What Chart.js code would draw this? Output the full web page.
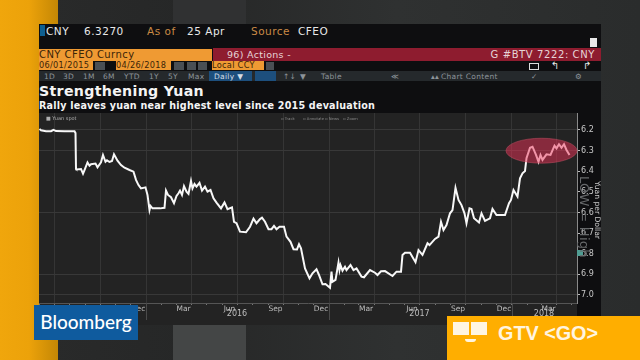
<!DOCTYPE html>
<html>
<head>
<meta charset="utf-8">
<style>
  html, body { margin: 0; padding: 0; background: #262828; }
  #stage { position: relative; width: 640px; height: 360px; overflow: hidden; font-family: "DejaVu Sans", sans-serif;
    background: linear-gradient(90deg, #2a2b2b 0%, #262727 30%, #2f3131 62%, #2a2c2c 100%); }
  #stage div, #stage span { position: absolute; white-space: nowrap; }
  .strip { left: 0; top: 0; width: 58px; height: 360px; background: linear-gradient(90deg, #f0a60c 0%, #eca20a 50%, #c48705 100%); }
  .patch { left: 173px; width: 73px; }
  .panel { left: 39px; top: 24px; width: 562px; height: 301px; background: #0e0e10; }
  .quote { top: 25px; font-size: 10.5px; line-height: 13px; letter-spacing: .5px; color: #e8e8e8; }
  .or { color: #c98a45; }
  .bar-o { background: #ef9a33; color: #3a2408; }
  .small { font-size: 8.2px; line-height: 9px; top: 61px; height: 9px; letter-spacing: .3px; }
  .btn { top: 62px; height: 8px; background: #4a4f54; }
  .tab { top: 72px; font-size: 7.5px; line-height: 9px; color: #8d949a; letter-spacing: .3px; }
  .mini { top: 116px; font-size: 3.8px; line-height: 5px; color: #8b8b8b; }
  #chart { position: absolute; left: 39px; top: 113px; }
  #logo { left: 34px; top: 305px; width: 104px; height: 35px; background: #0f5b9e; color: #fff;
    font-family: Lato, sans-serif; font-weight: 500; font-size: 19px; line-height: 33px; text-align: center; }
  #gtv { left: 447px; top: 316px; width: 193px; height: 44px; background: #ffae00; }
  #gtv span { left: 51px; top: 5px; font-family: "Liberation Sans", sans-serif; font-weight: bold; font-size: 19.8px; line-height: 24px; color: #fff5e0; }
  .screen { top: 6px; height: 13px; background: #fff5e0; }
  .side { transform-origin: left top; transform: rotate(90deg); }
</style>
</head>
<body>
<div id="stage">
  <div class="strip"></div>
  <div class="patch" style="top:0;height:24px;background:#303132"></div>
  <div class="patch" style="top:325px;height:35px;background:#444646"></div>

  <div class="panel"></div>
  <div style="left:40px;top:25px;width:5px;height:11px;background:#0f5f8f"></div>
  <span class="quote" style="left:46px">CNY</span>
  <span class="quote" style="left:84px">6.3270</span>
  <span class="quote or" style="left:147px">As of</span>
  <span class="quote" style="left:187px">25 Apr</span>
  <span class="quote or" style="left:251px">Source</span>
  <span class="quote" style="left:298px">CFEO</span>

  <div style="left:590px;top:38px;width:7px;height:9px;background:#e8e8e8"></div>

  <div class="bar-o" style="left:39px;top:49px;width:173px;height:12px;font-size:10px;line-height:12px;letter-spacing:.45px">CNY CFEO Curncy</div>
  <div style="left:213px;top:48px;width:388px;height:13px;background:#8e1c2f"></div>
  <span style="left:227px;top:48px;font-size:9.5px;line-height:13px;color:#e6d4d6;letter-spacing:.3px">96) Actions  -</span>
  <span style="right:45px;top:48px;font-size:10px;line-height:13px;color:#e6d4d6;letter-spacing:.6px">G #BTV 7222: CNY</span>

  <div class="bar-o small" style="left:39px;width:54px">06/01/2015</div>
  <div class="btn" style="left:95px;width:10px"></div>
  <div class="bar-o small" style="left:116px;width:55px">04/26/2018</div>
  <div class="btn" style="left:174px;width:10px"></div>
  <div class="btn" style="left:187px;width:9px"></div>
  <div class="btn" style="left:198px;width:9px"></div>
  <div class="bar-o small" style="left:212px;width:52px">Local CCY</div>
  <div class="btn" style="left:266px;width:8px"></div>
  <div style="left:529px;top:63px;width:8px;height:5px;border:1px solid #ddd"></div>
  <span style="left:551px;top:60px;font-size:10px;line-height:11px;color:#e8e8e8">↰</span>
  <span style="left:583px;top:60px;font-size:10px;line-height:11px;color:#e8e8e8">↱</span>

  <div style="left:39px;top:71px;width:562px;height:10px;background:#25292c"></div>
  <span class="tab" style="left:44px">1D</span>
  <span class="tab" style="left:63px">3D</span>
  <span class="tab" style="left:83px">1M</span>
  <span class="tab" style="left:103px">6M</span>
  <span class="tab" style="left:124px">YTD</span>
  <span class="tab" style="left:149px">1Y</span>
  <span class="tab" style="left:168px">5Y</span>
  <span class="tab" style="left:188px">Max</span>
  <div style="left:209px;top:71px;width:43px;height:10px;background:#1d4f7d"></div>
  <span class="tab" style="left:214px;color:#d5dde5">Daily ▼</span>
  <div style="left:255px;top:71px;width:21px;height:10px;background:#1d4f7d"></div>
  <span class="tab" style="left:283px">↑↓</span>
  <span class="tab" style="left:300px">▼</span>
  <span class="tab" style="left:321px">Table</span>
  <span class="tab" style="left:391px">≪</span>
  <span class="tab" style="left:431px">▴▴</span>
  <span class="tab" style="left:441px">Chart Content</span>
  <span class="tab" style="left:531px">✓</span>
  <span class="tab" style="left:575px">⚙</span>

  <span style="left:39px;top:83px;font-size:14.2px;line-height:17px;font-weight:bold;color:#f4f4f4;letter-spacing:.3px">Strengthening Yuan</span>
  <span style="left:39px;top:99px;font-size:9.6px;line-height:13px;font-weight:bold;color:#f4f4f4;letter-spacing:.2px">Rally leaves yuan near highest level since 2015 devaluation</span>

  <canvas id="chart" width="562" height="212"></canvas>

  <span class="mini" style="left:46px;font-size:5px;color:#b0b0b0">■ Yuan spot</span>
  <span class="mini" style="left:281px">▫ Track</span>
  <span class="mini" style="left:303px">▫ Annotate</span>
  <span class="mini" style="left:325px">▫ News</span>
  <span class="mini" style="left:343px">▫ Zoom</span>

  <div style="left:577px;top:250px;width:6px;height:6px;background:#4f9c92"></div>
  <span class="side" style="left:592px;top:176px;font-size:13px;line-height:16px;color:#66686a;letter-spacing:.3px">LOW = High</span>
  <span class="side" style="left:602px;top:181px;font-size:7.6px;line-height:10px;color:#c9c9c9">Yuan per Dollar</span>

  <div id="logo">Bloomberg</div>
  <div id="gtv">
    <div class="screen" style="left:6px;width:16px"></div>
    <div class="screen" style="left:24px;width:16px"></div>
    <div style="left:18px;top:23px;width:11px;height:3px;border-radius:0 0 5px 5px;background:#fff5e0"></div>
    <span>GTV &lt;GO&gt;</span>
  </div>
</div>

<script src="https://cdn.jsdelivr.net/npm/chart.js@4/dist/chart.umd.min.js"></script>
<script>
// Days since 06/01/2015 and yuan per dollar
const days = [1, 4, 14, 24, 29, 34, 51, 71, 73, 74, 75, 84, 88, 91, 97, 101, 104, 113, 117, 124, 128, 133, 136, 141, 146, 150, 157, 164, 171, 181, 189, 194, 199, 204, 213, 217, 221, 223, 227, 242, 251, 254, 258, 264, 270, 275, 279, 282, 286, 290, 295, 299, 304, 307, 311, 315, 321, 326, 332, 337, 343, 349, 355, 364, 371, 377, 386, 390, 395, 402, 414, 422, 429, 435, 442, 446, 452, 459, 465, 470, 475, 481, 490, 495, 503, 509, 516, 520, 524, 532, 541, 547, 555, 560, 567, 573, 582, 585, 587, 593, 599, 601, 603, 607, 612, 615, 623, 629, 635, 645, 650, 662, 672, 677, 684, 692, 707, 715, 724, 727, 732, 742, 753, 759, 767, 777, 781, 792, 799, 804, 809, 815, 822, 827, 833, 839, 845, 851, 855, 861, 865, 870, 880, 885, 892, 902, 907, 915, 932, 940, 944, 949, 957, 962, 967, 972, 975, 982, 987, 994, 999, 1003, 1007, 1015, 1023, 1031, 1035, 1040, 1045, 1050, 1055, 1061];
const yuanSpot = [6.195, 6.201, 6.206, 6.206, 6.199, 6.205, 6.206, 6.206, 6.215, 6.389, 6.391, 6.389, 6.412, 6.394, 6.357, 6.373, 6.366, 6.363, 6.381, 6.357, 6.321, 6.354, 6.347, 6.355, 6.350, 6.318, 6.349, 6.370, 6.383, 6.394, 6.402, 6.442, 6.467, 6.483, 6.478, 6.515, 6.588, 6.568, 6.580, 6.580, 6.577, 6.494, 6.515, 6.526, 6.555, 6.520, 6.507, 6.494, 6.515, 6.472, 6.499, 6.510, 6.447, 6.483, 6.462, 6.475, 6.456, 6.494, 6.475, 6.499, 6.491, 6.531, 6.552, 6.580, 6.551, 6.584, 6.575, 6.645, 6.652, 6.693, 6.696, 6.669, 6.630, 6.652, 6.632, 6.625, 6.645, 6.681, 6.681, 6.665, 6.681, 6.669, 6.669, 6.717, 6.742, 6.778, 6.779, 6.754, 6.774, 6.871, 6.919, 6.895, 6.875, 6.903, 6.948, 6.947, 6.965, 6.887, 6.936, 6.927, 6.843, 6.879, 6.855, 6.882, 6.863, 6.879, 6.855, 6.879, 6.871, 6.911, 6.914, 6.879, 6.892, 6.903, 6.885, 6.884, 6.908, 6.887, 6.887, 6.806, 6.795, 6.795, 6.841, 6.782, 6.805, 6.749, 6.758, 6.728, 6.717, 6.645, 6.685, 6.661, 6.604, 6.588, 6.480, 6.539, 6.564, 6.604, 6.652, 6.580, 6.583, 6.628, 6.648, 6.604, 6.641, 6.628, 6.583, 6.612, 6.612, 6.555, 6.539, 6.491, 6.523, 6.434, 6.410, 6.399, 6.337, 6.286, 6.281, 6.321, 6.354, 6.321, 6.345, 6.318, 6.321, 6.276, 6.289, 6.269, 6.286, 6.269, 6.297, 6.321];

const yTicks = [6.2, 6.3, 6.4, 6.5, 6.6, 6.7, 6.8, 6.9, 7.0];
const yGridTicks = [6.2, 6.3, 6.6, 6.9, 7.0];

// Month starts (days since 06/01/2015), labels sit mid-month
const monthStarts = [0, 30, 61, 92, 122, 153, 183, 214, 245, 274, 305, 335, 366, 396, 427, 458, 488, 519, 549, 580, 611, 639, 670, 700, 731, 761, 792, 823, 853, 884, 914, 945, 976, 1004, 1035, 1065];
const gridDays = [30, 122, 214, 305, 396, 488, 580, 670, 761, 853, 945, 1035];
const labelDays = [15, 107, 198, 289, 381, 473, 564, 654, 746, 838, 930, 1019];
const labelNames = ['Jun', 'Sep', 'Dec', 'Mar', 'Jun', 'Sep', 'Dec', 'Mar', 'Jun', 'Sep', 'Dec', 'Mar'];

const yearNames = ['2016', '2017', '2018'];
const yearCentres = [396, 761, 1010];
const yearStarts = [214, 580, 945];

// Highlight ellipse, in axis units
const ellipseDays = [934, 1076];
const ellipseYuan = [6.24, 6.361];

const decorPlugin = {
    id: 'decor',
    afterDatasetsDraw(chart) {
        const { ctx, scales: { x, y } } = chart;
        const x0 = x.getPixelForValue(ellipseDays[0]);
        const x1 = x.getPixelForValue(ellipseDays[1]);
        const y0 = y.getPixelForValue(ellipseYuan[0]);
        const y1 = y.getPixelForValue(ellipseYuan[1]);
        ctx.save();
        ctx.beginPath();
        ctx.ellipse((x0 + x1) / 2, (y0 + y1) / 2, (x1 - x0) / 2, (y1 - y0) / 2, 0, 0, Math.PI * 2);
        ctx.fillStyle = 'rgba(235, 50, 88, 0.5)';
        ctx.fill();
        ctx.lineWidth = 1;
        ctx.strokeStyle = 'rgba(200, 80, 100, 0.5)';
        ctx.stroke();
        ctx.restore();
    },
    afterDraw(chart) {
        const { ctx, chartArea, scales: { x } } = chart;
        ctx.save();
        ctx.strokeStyle = '#4a4a4a';
        ctx.beginPath();
        yearStarts.forEach(d => {
            const px = Math.round(x.getPixelForValue(d)) + 0.5;
            ctx.moveTo(px, chartArea.bottom);
            ctx.lineTo(px, chartArea.bottom + 17);
        });
        ctx.stroke();
        ctx.fillStyle = '#bdbdbd';
        ctx.font = '8px "DejaVu Sans"';
        ctx.textAlign = 'center';
        ctx.textBaseline = 'middle';
        yearNames.forEach((name, i) => ctx.fillText(name, x.getPixelForValue(yearCentres[i]), chartArea.bottom + 11));
        ctx.restore();
    }
};

const bgPlugin = {
    id: 'plotBackground',
    beforeDraw(chart) {
        const { ctx, width, height, chartArea: a } = chart;
        ctx.save();
        ctx.fillStyle = '#232323';
        ctx.fillRect(0, 0, a.right, height);
        ctx.fillStyle = '#0e0e10';
        ctx.fillRect(a.right, 0, width - a.right, height);
        ctx.restore();
    }
};

new Chart(document.getElementById('chart').getContext('2d'), {
    type: 'line',
    data: {
        datasets: [{
            label: 'Yuan spot',
            data: days.map((d, i) => ({ x: d, y: yuanSpot[i] })),
            borderColor: '#f8f8f8',
            borderWidth: 2,
            pointRadius: 0,
            tension: 0
        }]
    },
    options: {
        responsive: false,
        animation: false,
        layout: { padding: 0 },
        plugins: { legend: { display: false }, tooltip: { enabled: false } },
        scales: {
            x: {
                type: 'linear',
                min: 0,
                max: 1076,
                afterBuildTicks: s => {
                    s.ticks = [...monthStarts, ...labelDays].sort((a, b) => a - b).map(v => ({ value: v }));
                },
                afterFit: s => { s.height = 22; s.paddingLeft = 0; s.paddingRight = 0; },
                grid: {
                    color: c => gridDays.includes(c.tick?.value) ? '#353535' : 'transparent',
                    tickColor: c => monthStarts.includes(c.tick?.value) ? '#777' : 'transparent',
                    tickLength: 2
                },
                border: { color: '#555' },
                ticks: {
                    autoSkip: false,
                    maxRotation: 0,
                    padding: 0,
                    color: '#bdbdbd',
                    font: { family: 'DejaVu Sans', size: 7.5 },
                    callback: v => labelDays.includes(v) ? labelNames[labelDays.indexOf(v)] : ''
                }
            },
            y: {
                type: 'linear',
                position: 'right',
                reverse: true,
                min: 6.1176,
                max: 7.0388,
                afterBuildTicks: s => { s.ticks = yTicks.map(v => ({ value: v })); },
                afterFit: s => { s.width = 24; s.paddingTop = 0; s.paddingBottom = 0; },
                grid: {
                    color: c => yGridTicks.includes(c.tick?.value) ? '#383838' : 'transparent',
                    tickColor: '#bbb',
                    tickLength: 3
                },
                border: { color: '#8a8a8a' },
                ticks: {
                    padding: 1,
                    color: '#c8c8c8',
                    font: { family: 'DejaVu Sans', size: 8 },
                    callback: v => v.toFixed(1)
                }
            }
        }
    },
    plugins: [bgPlugin, decorPlugin]
});
</script>
</body>
</html>
